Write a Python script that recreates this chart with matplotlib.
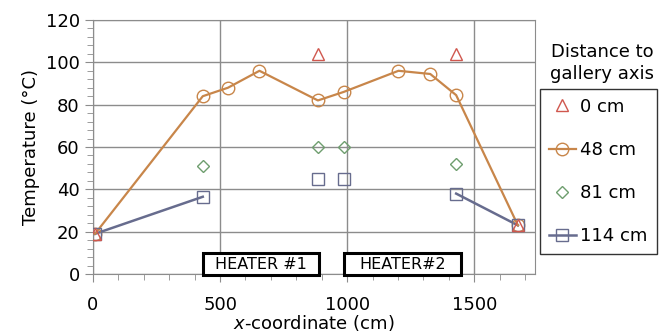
import numpy as np
import matplotlib.pyplot as plt
from matplotlib.patches import Rectangle
from matplotlib.ticker import MultipleLocator

# === Data ===
x_0cm = [8, 885, 1429, 1672]
t_0cm = [19, 104, 104, 23]

x_48cm = [8, 432, 531, 655, 885, 986, 1202, 1327, 1429, 1672]
t_48cm = [19, 84, 88, 96, 82, 86, 96, 94.5, 84.5, 23]

x_81cm = [432, 885, 986, 1429]
t_81cm = [51, 60, 60, 52]

x_114cm = [8, 432, 885, 986, 1429, 1672]
t_114cm = [19, 36.5, 45, 45, 38, 23]
# only these points of 114 cm are joined by a line
line_114_groups = [[0, 1], [4, 5]]

heaters = ["HEATER #1", "HEATER#2"]
heater_x = [(432, 890), (988, 1449)]
heater_y = (-0.5, 10)

C_RED = "#D0574E"
C_ORANGE = "#C8864A"
C_GREEN = "#6E9E6E"
C_BLUE = "#676C8E"
FS = 13


def main():
    plt.rcParams["font.family"] = ["DejaVu Sans"]
    fig = plt.figure(figsize=(6.69, 3.33), dpi=100)
    ax = fig.add_axes([0.139, 0.177, 0.661, 0.763])

    ax.plot(x_0cm, t_0cm, ls="none", marker="^", ms=9, mfc="none",
            mec=C_RED, mew=1.0, label="0 cm", zorder=5)
    ax.plot(x_48cm, t_48cm, color=C_ORANGE, lw=1.6, marker="o", ms=9,
            mfc="none", mec=C_ORANGE, mew=1.0, label="48 cm", zorder=4)
    ax.plot(x_81cm, t_81cm, ls="none", marker="D", ms=6, mfc="none",
            mec=C_GREEN, mew=1.0, label="81 cm", zorder=4)
    for g in line_114_groups:
        ax.plot([x_114cm[i] for i in g], [t_114cm[i] for i in g],
                color=C_BLUE, lw=1.8, zorder=3)
    ax.plot(x_114cm, t_114cm, ls="none", marker="s", ms=8.5, mfc="none",
            mec=C_BLUE, mew=1.0, zorder=4)
    # legend handle for 114 cm (line + marker)
    ax.plot([], [], color=C_BLUE, lw=1.8, marker="s", ms=8.5, mfc="none",
            mec=C_BLUE, mew=1.0, label="114 cm")

    y0, y1 = heater_y
    for name, (x0, x1) in zip(heaters, heater_x):
        ax.add_patch(Rectangle((x0, y0), x1 - x0, y1 - y0, fc="white",
                               ec="black", lw=2.2, clip_on=False, zorder=6))
        ax.text((x0 + x1) / 2, (y0 + y1) / 2, name, ha="center", va="center",
                fontsize=11.5, zorder=7)

    ax.set_xlim(0, 1740)
    ax.set_ylim(0, 120)
    ax.xaxis.set_major_locator(MultipleLocator(500))
    ax.xaxis.set_minor_locator(MultipleLocator(100))
    ax.yaxis.set_major_locator(MultipleLocator(20))
    ax.yaxis.set_minor_locator(MultipleLocator(4))
    ax.grid(True, which="major", color="#8C8C8C", lw=1.0)
    ax.set_axisbelow(True)
    ax.tick_params(which="both", direction="out", color="#8C8C8C", labelsize=FS)
    ax.tick_params(which="major", length=6)
    ax.tick_params(which="minor", length=4)
    ax.tick_params(axis="x", pad=10)
    for s in ax.spines.values():
        s.set_color("#8C8C8C")

    ax.set_ylabel("Temperature (°C)", fontsize=FS, labelpad=4)
    ax.set_xlabel("$x$-coordinate (cm)", fontsize=FS, labelpad=-1)

    leg = ax.legend(loc="upper left", bbox_to_anchor=(1.01, 0.73), frameon=True,
                    fancybox=False, edgecolor="black", fontsize=FS,
                    handlelength=1.5, handletextpad=0.25, borderaxespad=0,
                    labelspacing=1.4, borderpad=0.5)
    leg.get_frame().set_linewidth(1.0)
    fig.text(0.9, 0.81, "Distance to\ngallery axis", ha="center", va="center",
             fontsize=FS, linespacing=1.3)

    fig.savefig("out.png", dpi=100)


if __name__ == "__main__":
    main()
